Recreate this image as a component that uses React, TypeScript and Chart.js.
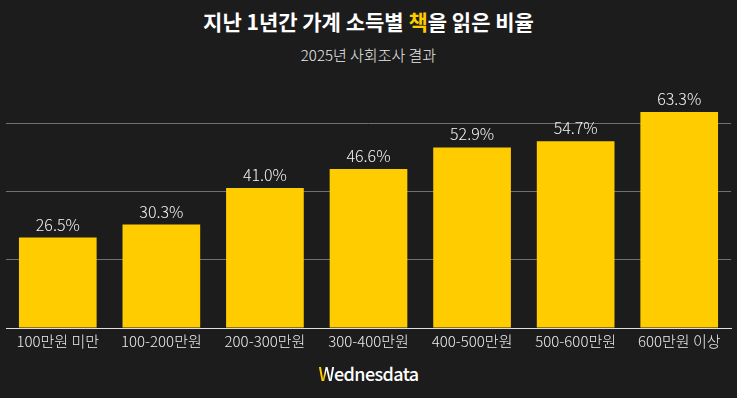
import React, { useEffect, useRef } from "react";
import { Chart, registerables } from "chart.js";

Chart.register(...registerables);

const categories = ["100만원 미만", "100-200만원", "200-300만원", "300-400만원", "400-500만원", "500-600만원", "600만원 이상"];
const values = [26.5, 30.3, 41.0, 46.6, 52.9, 54.7, 63.3];
const yMax = 70;
const yStep = 20;

const BG = "#1c1c1c";
const BAR = "#ffcc00";
const FONT = "'Noto Sans CJK KR', 'Noto Sans', sans-serif";

const valueLabels = {
  id: "valueLabels",
  afterDatasetsDraw(chart: any) {
    const ctx = chart.ctx;
    const meta = chart.getDatasetMeta(0);
    ctx.save();
    ctx.font = `300 16px ${FONT}`;
    ctx.fillStyle = "#f4f4f4";
    ctx.textAlign = "center";
    ctx.textBaseline = "bottom";
    meta.data.forEach((el: any, i: number) => {
      ctx.fillText(values[i].toFixed(1) + "%", el.x, el.y - 5);
    });
    ctx.restore();
  },
};

export default function App() {
  const ref = useRef<HTMLCanvasElement | null>(null);
  useEffect(() => {
    document.body.style.margin = "0";
    if (!ref.current) return;
    const chart = new Chart(ref.current, {
      type: "bar",
      data: {
        labels: categories,
        datasets: [
          {
            data: values,
            backgroundColor: BAR,
            borderWidth: 0,
            categoryPercentage: 1,
            barPercentage: 0.75,
          },
        ],
      },
      options: {
        animation: false,
        responsive: false,
        maintainAspectRatio: false,
        layout: { padding: { left: 6, right: 6, top: 0, bottom: 0 } },
        plugins: { legend: { display: false }, tooltip: { enabled: false }, title: { display: false } },
        scales: {
          x: {
            grid: { display: false, drawTicks: false },
            border: { display: true, color: "#e0e0e0", width: 1 },
            ticks: { color: "#ececec", font: { family: FONT, size: 15, weight: "300" }, padding: 4, maxRotation: 0, autoSkip: false },
          },
          y: {
            min: 0,
            max: yMax,
            ticks: { display: false, stepSize: yStep },
            border: { display: false },
            grid: {
              drawTicks: false,
              color: (c: any) =>
                c.tick && (c.tick.value === 0 || c.tick.value % yStep !== 0) ? "rgba(0,0,0,0)" : "#707070",
              lineWidth: 1,
            },
          },
        },
      },
      plugins: [valueLabels],
    });
    return () => chart.destroy();
  }, []);

  return (
    <div style={{ position: "relative", width: 737, height: 398, background: BG, overflow: "hidden", fontFamily: FONT }}>
      <div style={{ position: "absolute", top: 6, left: 0, width: 737, textAlign: "center", color: "#ffffff", fontSize: 21, fontWeight: 700, lineHeight: "30px" }}>
        지난 1년간 가계 소득별 <span style={{ color: BAR }}>책</span>을 읽은 비율
      </div>
      <div style={{ position: "absolute", top: 45, left: 0, width: 737, textAlign: "center", color: "#ebebeb", fontSize: 15, fontWeight: 300, lineHeight: "20px" }}>
        2025년 사회조사 결과
      </div>
      <canvas ref={ref} width={737} height={265} style={{ position: "absolute", top: 89, left: 0, width: 737, height: 265 }} />
      <div style={{ position: "absolute", top: 360, left: 0, width: 737, textAlign: "center", color: "#ffffff", fontSize: 18, fontWeight: 500, lineHeight: "26px", letterSpacing: "-0.6px" }}>
        <span style={{ background: `linear-gradient(to right, ${BAR} 45%, #ffffff 45%)`, WebkitBackgroundClip: "text", backgroundClip: "text", color: "transparent" }}>W</span>ednesdata
      </div>
    </div>
  );
}
